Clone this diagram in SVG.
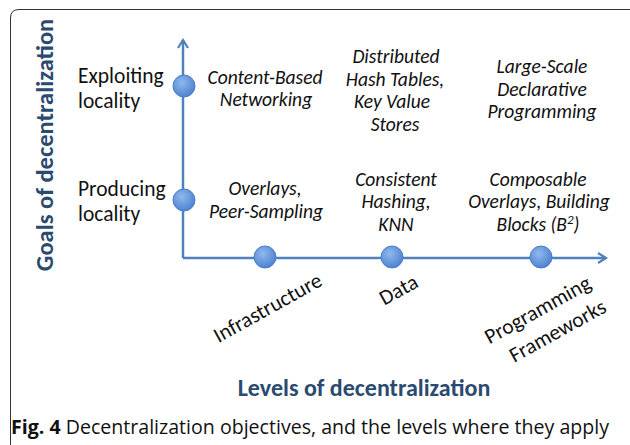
<svg xmlns="http://www.w3.org/2000/svg" width="630" height="445" viewBox="0 0 630 445">
<defs>
<radialGradient id="g" cx="0.4" cy="0.35" r="0.7">
<stop offset="0" stop-color="#8fb8ec"/>
<stop offset="1" stop-color="#4a7fcf"/>
</radialGradient>
<marker id="arr" markerWidth="12" markerHeight="12" refX="9" refY="6" orient="auto" markerUnits="userSpaceOnUse">
<path d="M1,1 L9,6 L1,11" fill="none" stroke="#4f81bd" stroke-width="2.2"/>
</marker>
</defs>
<style>
.ax{fill:none;stroke:#4f81bd;stroke-width:2.5}
.dot{fill:url(#g);stroke:#4a7ec6;stroke-width:1}
.lab{font-family:Carlito,"Open Sans","Liberation Sans",sans-serif;font-size:21.5px;fill:#111}
.it{font-family:Carlito,"Open Sans","Liberation Sans",sans-serif;font-size:19.5px;font-style:italic;fill:#111;text-anchor:middle}
.ttl{font-family:Carlito,"Open Sans","Liberation Sans",sans-serif;font-weight:bold;fill:#2b4a6f;text-anchor:middle}
.cap{font-family:"Open Sans","Liberation Sans",sans-serif;font-size:19.5px;fill:#111}
</style>
<rect width="630" height="445" fill="#fff"/>
<path d="M10.5,445 L10.5,18 Q10.5,9.5 19,9.5 L630,9.5" fill="none" stroke="#333" stroke-width="1"/>
<g id="connectors">
<path class="ax" d="M183,258 L183,40" marker-end="url(#arr)"/>
<path class="ax" d="M183,258 L606,258" marker-end="url(#arr)"/>
</g>
<g id="y-title"><text class="ttl" font-size="24.5" transform="translate(53,145) rotate(-90)">Goals of decentralization</text></g>
<g id="x-title"><text class="ttl" font-size="24" x="364" y="396">Levels of decentralization</text></g>
<g id="exploiting"><ellipse class="dot" cx="184" cy="86" rx="11" ry="11"/>
<text class="lab" x="78" y="83">Exploiting</text><text class="lab" x="78" y="108">locality</text></g>
<g id="producing"><ellipse class="dot" cx="184" cy="200" rx="11" ry="11"/>
<text class="lab" x="78" y="196">Producing</text><text class="lab" x="78" y="221">locality</text></g>
<g id="infrastructure"><ellipse class="dot" cx="265" cy="257" rx="11" ry="11"/>
<text class="lab" text-anchor="middle" transform="translate(271,314) rotate(-29)">Infrastructure</text></g>
<g id="data"><ellipse class="dot" cx="392" cy="257" rx="11" ry="11"/>
<text class="lab" text-anchor="middle" transform="translate(402,296) rotate(-29)">Data</text></g>
<g id="programming"><ellipse class="dot" cx="541" cy="257" rx="11" ry="11"/>
<text class="lab" text-anchor="middle" transform="translate(541,316) rotate(-29)">Programming</text>
<text class="lab" text-anchor="middle" transform="translate(561,337) rotate(-29)">Frameworks</text></g>
<g id="content-based"><text class="it" x="265" y="84">Content-Based</text><text class="it" x="266" y="106">Networking</text></g>
<g id="dht"><text class="it" x="396" y="63">Distributed</text><text class="it" x="395" y="86">Hash Tables,</text><text class="it" x="392" y="108">Key Value</text><text class="it" x="395" y="131">Stores</text></g>
<g id="large-scale"><text class="it" x="542" y="73">Large-Scale</text><text class="it" x="542" y="96">Declarative</text><text class="it" x="542" y="118">Programming</text></g>
<g id="overlays"><text class="it" x="265" y="195">Overlays,</text><text class="it" x="266" y="218">Peer-Sampling</text></g>
<g id="consistent"><text class="it" x="396" y="186">Consistent</text><text class="it" x="396" y="208">Hashing,</text><text class="it" x="396" y="231">KNN</text></g>
<g id="composable"><text class="it" x="538" y="186">Composable</text><text class="it" x="539" y="208">Overlays, Building</text><text class="it" x="538" y="231">Blocks (B<tspan font-size="13" dy="-7">2</tspan><tspan dy="7">)</tspan></text></g>
<g id="caption"><text class="cap" x="11" y="434" textLength="598" lengthAdjust="spacingAndGlyphs"><tspan font-weight="bold">Fig. 4</tspan> Decentralization objectives, and the levels where they apply</text></g>
</svg>
